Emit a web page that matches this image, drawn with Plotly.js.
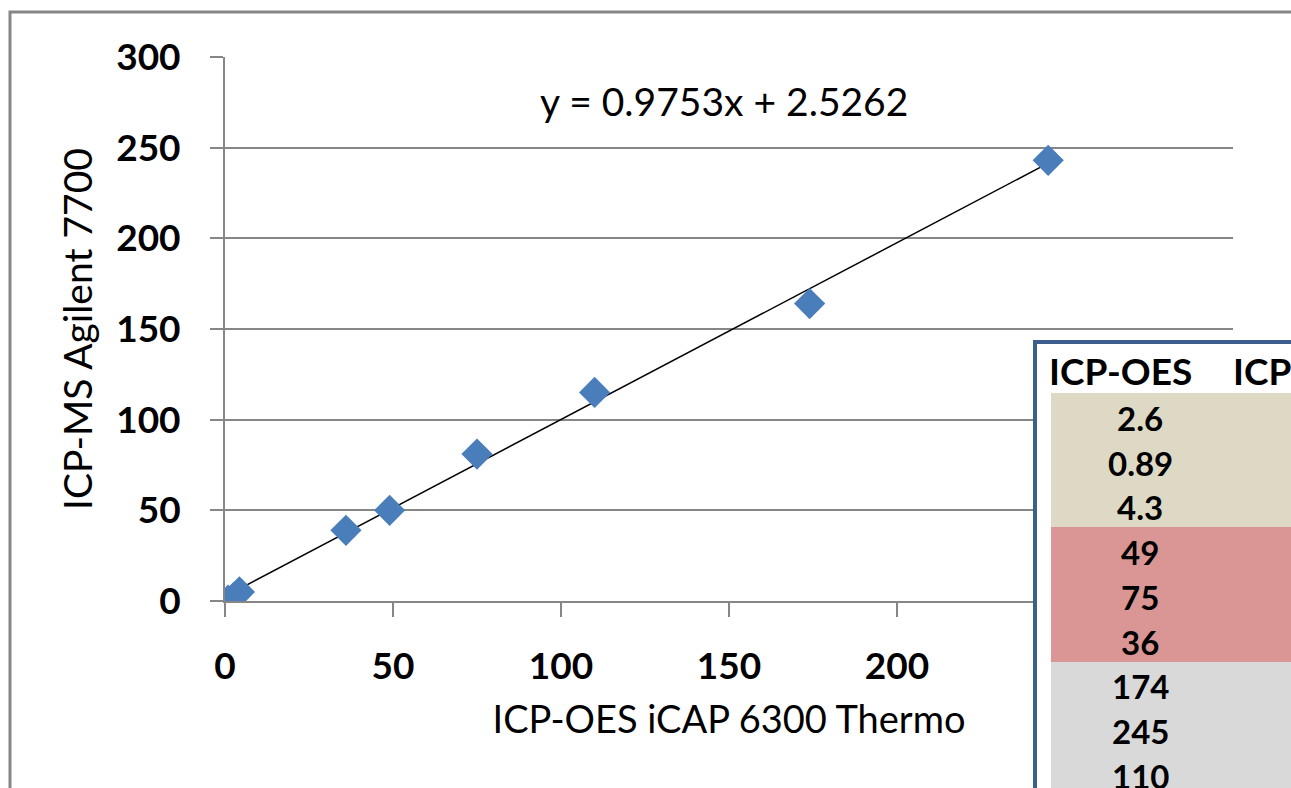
<!DOCTYPE html>
<html>
<head>
<meta charset="utf-8">
<script src="https://cdn.plot.ly/plotly-3.0.1.min.js"></script>
<style>html,body{margin:0;padding:0;background:#fff;}#chart{width:1291px;height:788px;}</style>
</head>
<body>
<div id="chart"></div>
<script>
// ---- data ----
const icpOES = [2.6, 0.89, 4.3, 49, 75, 36, 174, 245, 110];
const icpMS  = [2, 0.5, 5, 50, 81, 39, 164, 243, 115];
const tableLabels = ["2.6", "0.89", "4.3", "49", "75", "36", "174", "245", "110"];
const tableHeaders = ["ICP-OES", "ICP-MS"];
const slope = 0.9753;
const intercept = 2.5262;
const equationText = "y = 0.9753x + 2.5262";
const xTitle = "ICP-OES iCAP 6300 Thermo";
const yTitle = "ICP-MS Agilent 7700";

// ---- geometry helpers (pixel -> paper) ----
const W = 1291, H = 788;
const L = 225, R = 1233, T = 57, B = 601;
const px = x => (x - L) / (R - L);
const py = y => (B - y) / (B - T);

const xmin = Math.min(...icpOES), xmax = Math.max(...icpOES);
const trend = {
  x: [xmin, xmax],
  y: [slope * xmin + intercept, slope * xmax + intercept],
  mode: 'lines', type: 'scatter',
  line: {color: '#000000', width: 1.5},
  hoverinfo: 'skip', showlegend: false
};
const pts = {
  x: icpOES, y: icpMS, mode: 'markers', type: 'scatter',
  marker: {symbol: 'diamond', size: 24, color: '#4A7EBB'},
  showlegend: false
};

const shapes = [
  {type: 'rect', xref: 'paper', yref: 'paper', x0: px(10), x1: px(1310), y0: py(12), y1: py(820),
   line: {color: '#868686', width: 3}, fillcolor: 'rgba(0,0,0,0)', layer: 'below'},
  {type: 'rect', xref: 'paper', yref: 'paper', x0: px(1035), x1: px(1320), y0: py(342), y1: py(820),
   line: {color: '#3B5E8C', width: 4}, fillcolor: '#FFFFFF', layer: 'above'},
  {type: 'rect', xref: 'paper', yref: 'paper', x0: px(1051), x1: px(1320), y0: py(393), y1: py(527),
   line: {width: 0}, fillcolor: '#DDD9C4', layer: 'above'},
  {type: 'rect', xref: 'paper', yref: 'paper', x0: px(1051), x1: px(1320), y0: py(527), y1: py(662),
   line: {width: 0}, fillcolor: '#DA9694', layer: 'above'},
  {type: 'rect', xref: 'paper', yref: 'paper', x0: px(1051), x1: px(1320), y0: py(662), y1: py(820),
   line: {width: 0}, fillcolor: '#D9D9D9', layer: 'above'}
];

const fontF = 'Lato, "Open Sans", sans-serif';
const annotations = [
  {xref: 'paper', yref: 'paper', x: px(724), y: py(101), text: equationText, showarrow: false,
   xanchor: 'center', yanchor: 'middle', font: {family: fontF, size: 39, color: '#000'}},
  {xref: 'paper', yref: 'paper', x: px(1120), y: py(370), text: tableHeaders[0], showarrow: false,
   xanchor: 'center', yanchor: 'middle', font: {family: fontF, size: 37, color: '#000', weight: 'bold'}},
  {xref: 'paper', yref: 'paper', x: px(1231), y: py(370), text: tableHeaders[1], showarrow: false,
   xanchor: 'left', yanchor: 'middle', font: {family: fontF, size: 37, color: '#000', weight: 'bold'}}
];
const rowY0 = 418, rowStep = 44.7;
tableLabels.forEach((t, i) => {
  annotations.push({xref: 'paper', yref: 'paper', x: px(1140), y: py(rowY0 + i * rowStep), text: t,
    showarrow: false, xanchor: 'center', yanchor: 'middle',
    font: {family: fontF, size: 33, color: '#000', weight: 'bold'}});
});

const layout = {
  width: W, height: H,
  margin: {l: L, r: W - R, t: T, b: H - B, pad: 0},
  paper_bgcolor: '#FFFFFF', plot_bgcolor: '#FFFFFF',
  showlegend: false,
  xaxis: {
    range: [0, 300], dtick: 50, tick0: 0, showgrid: false, zeroline: false,
    showline: true, linecolor: '#868686', linewidth: 2,
    ticks: 'outside', ticklen: 14, tickwidth: 2, tickcolor: '#868686',
    ticklabelstandoff: 18,
    tickfont: {family: fontF, size: 37, color: '#000', weight: 'bold'},
    title: {text: xTitle, standoff: 20, font: {family: fontF, size: 38, color: '#000'}},
    automargin: false, fixedrange: true
  },
  yaxis: {
    range: [0, 300], dtick: 50, tick0: 0, showgrid: true, gridcolor: '#868686', gridwidth: 2,
    zeroline: false, showline: true, linecolor: '#868686', linewidth: 2,
    ticks: 'outside', ticklen: 13, tickwidth: 2, tickcolor: '#868686',
    ticklabelstandoff: 22,
    tickfont: {family: fontF, size: 37, color: '#000', weight: 'bold'},
    title: {text: yTitle, standoff: 12, font: {family: fontF, size: 39, color: '#000'}},
    automargin: false, fixedrange: true
  },
  shapes: shapes,
  annotations: annotations
};

Plotly.newPlot('chart', [trend, pts], layout, {displayModeBar: false, staticPlot: true});
</script>
</body>
</html>
